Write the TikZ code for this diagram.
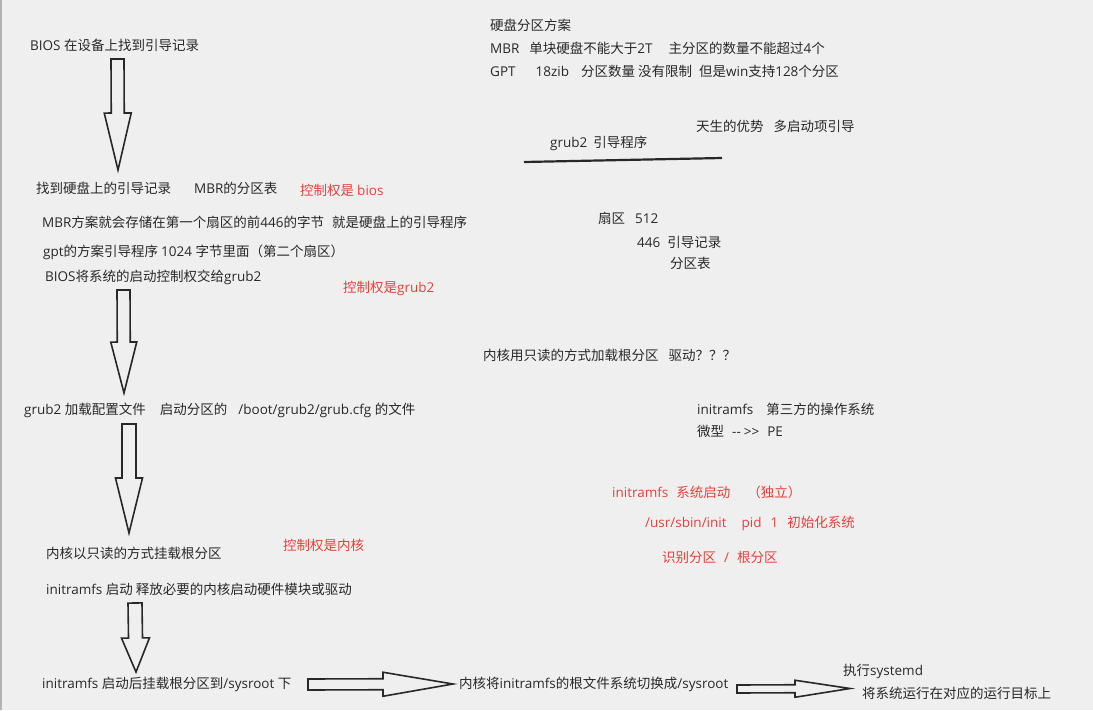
\documentclass[tikz,border=0pt]{standalone}
\usepackage{fontspec}
\setmainfont{Open Sans}
\newfontfamily\cjkf{Noto Sans CJK SC}
\newfontfamily\latf{Open Sans}
\usepackage{tikz}
\usetikzlibrary{calc}

% switch to the CJK face for ideographs and full-width signs
\XeTeXinterchartokenstate=1
\newXeTeXintercharclass\cjkcls
\count255="3000
\loop\XeTeXcharclass\count255=\cjkcls\ifnum\count255<"303F\advance\count255 by 1\repeat
\count255="4E00
\loop\XeTeXcharclass\count255=\cjkcls\ifnum\count255<"9FFF\advance\count255 by 1\repeat
\count255="FF00
\loop\XeTeXcharclass\count255=\cjkcls\ifnum\count255<"FFEF\advance\count255 by 1\repeat
\XeTeXinterchartoks 0 \cjkcls = {\cjkf}
\XeTeXinterchartoks 4095 \cjkcls = {\cjkf}
\XeTeXinterchartoks \cjkcls 0 = {\latf}
\XeTeXinterchartoks 4095 0 = {\latf}

\definecolor{pagebg}{RGB}{239,239,239}
\definecolor{ink}{RGB}{40,40,40}
\definecolor{notered}{RGB}{232,64,58}

% hollow block arrow: start, tip, half shaft, half head, head length
\newcommand{\fatarrow}[5]{%
  \coordinate (fa-h) at ($(#2)!#5!(#1)$);
  \draw[fat] ($(#1)!#3!90:(#2)$) -- ($(fa-h)!#3!-90:(#1)$) -- ($(fa-h)!#4!-90:(#1)$)
    -- (#2) -- ($(fa-h)!#4!90:(#1)$) -- ($(fa-h)!#3!90:(#1)$) -- ($(#1)!#3!-90:(#2)$) -- cycle;
}

\begin{document}
\begin{tikzpicture}[x=1pt, y=-1pt,
  note/.style={anchor=west, inner sep=0pt, text=ink, font=\fontsize{13.5}{15}\selectfont},
  rednote/.style={note, text=notered},
  fat/.style={draw=ink, line width=1.6pt, line join=miter},
  rule/.style={draw=ink, line width=2.2pt}
]
\fill[pagebg] (0,0) rectangle (1093,710);
\useasboundingbox (0,0) rectangle (1093,710);
\draw[black!30, line width=1.5pt] (1,0) -- (1,710);

% left column
\node[note]    (bios)      at (30,45)  {BIOS 在设备上找到引导记录};
\node[note]    (findrec)   at (36,188) {找到硬盘上的引导记录};
\node[note]    (mbrtab)    at (194,188) {MBR的分区表};
\node[rednote] (ctlbios)   at (300,190) {控制权是 bios};
\node[note]    (mbr446)    at (42,222) {MBR方案就会存储在第一个扇区的前446的字节\hspace{8pt}就是硬盘上的引导程序};
\node[note]    (gpt1024)   at (43,252) {gpt的方案引导程序 1024 字节里面（第二个扇区）};
\node[note]    (handover)  at (45,277) {BIOS将系统的启动控制权交给grub2};
\node[rednote] (ctlgrub)   at (343,288) {控制权是grub2};
\node[note]    (grubcfg)   at (24,410) {grub2 加载配置文件\hspace{14pt}启动分区的\hspace{11pt}/boot/grub2/grub.cfg 的文件};
\node[note]    (kernelro)  at (46,553) {内核以只读的方式挂载根分区};
\node[rednote] (ctlkernel) at (283,545) {控制权是内核};
\node[note]    (initstart) at (46,589) {initramfs 启动 释放必要的内核启动硬件模块或驱动};
\node[note]    (mountsys)  at (42,684) {initramfs 启动后挂载根分区到/sysroot 下};
\node[note]    (switchrt)  at (459,684) {内核将initramfs的根文件系统切换成/sysroot};
\node[note]    (systemd)   at (843,671) {执行systemd};
\node[note]    (target)    at (862,693) {将系统运行在对应的运行目标上};

% right column
\node[note]    (scheme)    at (490,25) {硬盘分区方案};
\node[note]    (mbrline)   at (490,48) {MBR\hspace{10pt}单块硬盘不能大于2T\hspace{16pt}主分区的数量不能超过4个};
\node[note]    (gptline)   at (490,71) {GPT\hspace{20pt}18zib\hspace{12pt}分区数量 没有限制\hspace{7pt}但是win支持128个分区};
\node[note]    (advant)    at (696,126) {天生的优势\hspace{10pt}多启动项引导};
\node[note]    (grubprog)  at (550,143) {grub2\hspace{6pt}引导程序};
\node[note]    (sector)    at (598,218) {扇区\hspace{10pt}512};
\node[note]    (rec446)    at (637,242) {446\hspace{7pt}引导记录};
\node[note]    (ptable)    at (670,263) {分区表};
\node[note]    (kernelrd)  at (483,355) {内核用只读的方式加载根分区\hspace{10pt}驱动？？？};
\node[note]    (thirdos)   at (697,409) {initramfs\hspace{13pt}第三方的操作系统};
\node[note]    (micro)     at (697,431) {微型\hspace{8pt}{-}{-} {>}{>}\hspace{8pt}PE};
\node[rednote] (sysboot)   at (612,492) {initramfs\hspace{8pt}系统启动\hspace{17pt}（独立）};
\node[rednote] (initpid)   at (645,523) {/usr/sbin/init\hspace{15pt}pid\hspace{9pt}1\hspace{9pt}初始化系统};
\node[rednote] (rootpart)  at (662,557) {识别分区\hspace{8pt}/\hspace{8pt}根分区};

\coordinate (ulA) at (524,162);
\coordinate (ulB) at (722,158);
\draw[rule] (ulA) -- (ulB);

% block arrows
\coordinate (a1s) at (117.5,59);  \coordinate (a1t) at (118,170);
\coordinate (a2s) at (123.5,290); \coordinate (a2t) at (124,393);
\coordinate (a3s) at (129,424);   \coordinate (a3t) at (129,533);
\coordinate (a4s) at (135,603);   \coordinate (a4t) at (136,672);
\coordinate (h1s) at (308,684.5); \coordinate (h1t) at (453,684);
\coordinate (h2s) at (737,689);   \coordinate (h2t) at (850,688.5);

\fatarrow{a1s}{a1t}{6.5pt}{13.5pt}{57pt}
\fatarrow{a2s}{a2t}{6.5pt}{13pt}{51pt}
\fatarrow{a3s}{a3t}{7pt}{13.5pt}{55pt}
\fatarrow{a4s}{a4t}{7pt}{14pt}{34pt}
\fatarrow{h1s}{h1t}{5.5pt}{12pt}{70pt}
\fatarrow{h2s}{h2t}{4pt}{8.5pt}{55pt}

\end{tikzpicture}
\end{document}
